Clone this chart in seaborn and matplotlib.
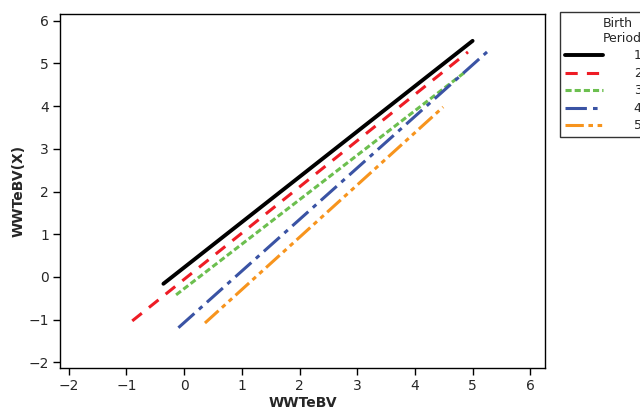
import pandas as pd
import matplotlib
matplotlib.use("Agg")
import matplotlib.pyplot as plt
import seaborn as sns

# end points, one fitted line per birth period
periode = ["1", "2", "3", "4", "5"]
x_awal = [-0.36, -0.90, -0.14, -0.10, 0.36]
y_awal = [-0.16, -1.03, -0.42, -1.19, -1.08]
x_akhir = [5.00, 4.92, 4.87, 5.25, 4.49]
y_akhir = [5.53, 5.27, 4.80, 5.27, 3.98]

warna = {"1": "#000000", "2": "#ee1c25", "3": "#6cbf4f", "4": "#3a53a4", "5": "#f7941d"}
garis = {"1": "", "2": (4, 3), "3": (2, 1), "4": (7, 2, 1.5, 2), "5": (6, 1.5, 1.5, 1.5, 1.5, 1.5)}

baris = []
for i, p in enumerate(periode):
    baris.append({"WWTeBV": x_awal[i], "WWTeBV(X)": y_awal[i], "Period": p})
    baris.append({"WWTeBV": x_akhir[i], "WWTeBV(X)": y_akhir[i], "Period": p})
df = pd.DataFrame(baris)

sns.set_style("white")
plt.rcParams["font.family"] = ["DejaVu Sans"]

fig = plt.figure(figsize=(6.4, 4.11), dpi=100)
ax = fig.add_axes([0.094, 0.105, 0.758, 0.861])
sns.lineplot(data=df, x="WWTeBV", y="WWTeBV(X)", hue="Period", style="Period",
             palette=warna, dashes=garis, linewidth=2.2, ax=ax, sort=False)
for ln in ax.lines:
    if ln.get_color() in ("#000000", "k"):
        ln.set_linewidth(2.8)

ax.set_xlim(-2.15, 6.26)
ax.set_ylim(-2.13, 6.16)
ax.set_xticks(range(-2, 7))
ax.set_yticks(range(-2, 7))
ax.tick_params(axis="both", direction="out", length=5, width=1, labelsize=10,
               bottom=True, left=True, color="black", pad=3)
for s in ax.spines.values():
    s.set_color("black")
    s.set_linewidth(1)
ax.set_xlabel("WWTeBV", fontsize=10, fontweight="bold", labelpad=2)
ax.set_ylabel("WWTeBV(X)", fontsize=10, fontweight="bold", labelpad=2)

handles, labels = ax.get_legend_handles_labels()
ax.get_legend().remove()
for h in handles:
    if h.get_color() in ("#000000", "k"):
        h.set_linewidth(2.8)
leg = fig.legend(handles, labels, title="Birth\nPeriod", loc="upper left",
                 bbox_to_anchor=(0.875, 0.971), borderaxespad=0, fontsize=9,
                 title_fontsize=9, frameon=True, fancybox=False, handlelength=3.0,
                 handletextpad=2.5, labelspacing=0.36, borderpad=0.4,
                 alignment="right")
leg.get_frame().set_edgecolor("black")
leg.get_frame().set_linewidth(1)

fig.savefig("out.png", dpi=100)
